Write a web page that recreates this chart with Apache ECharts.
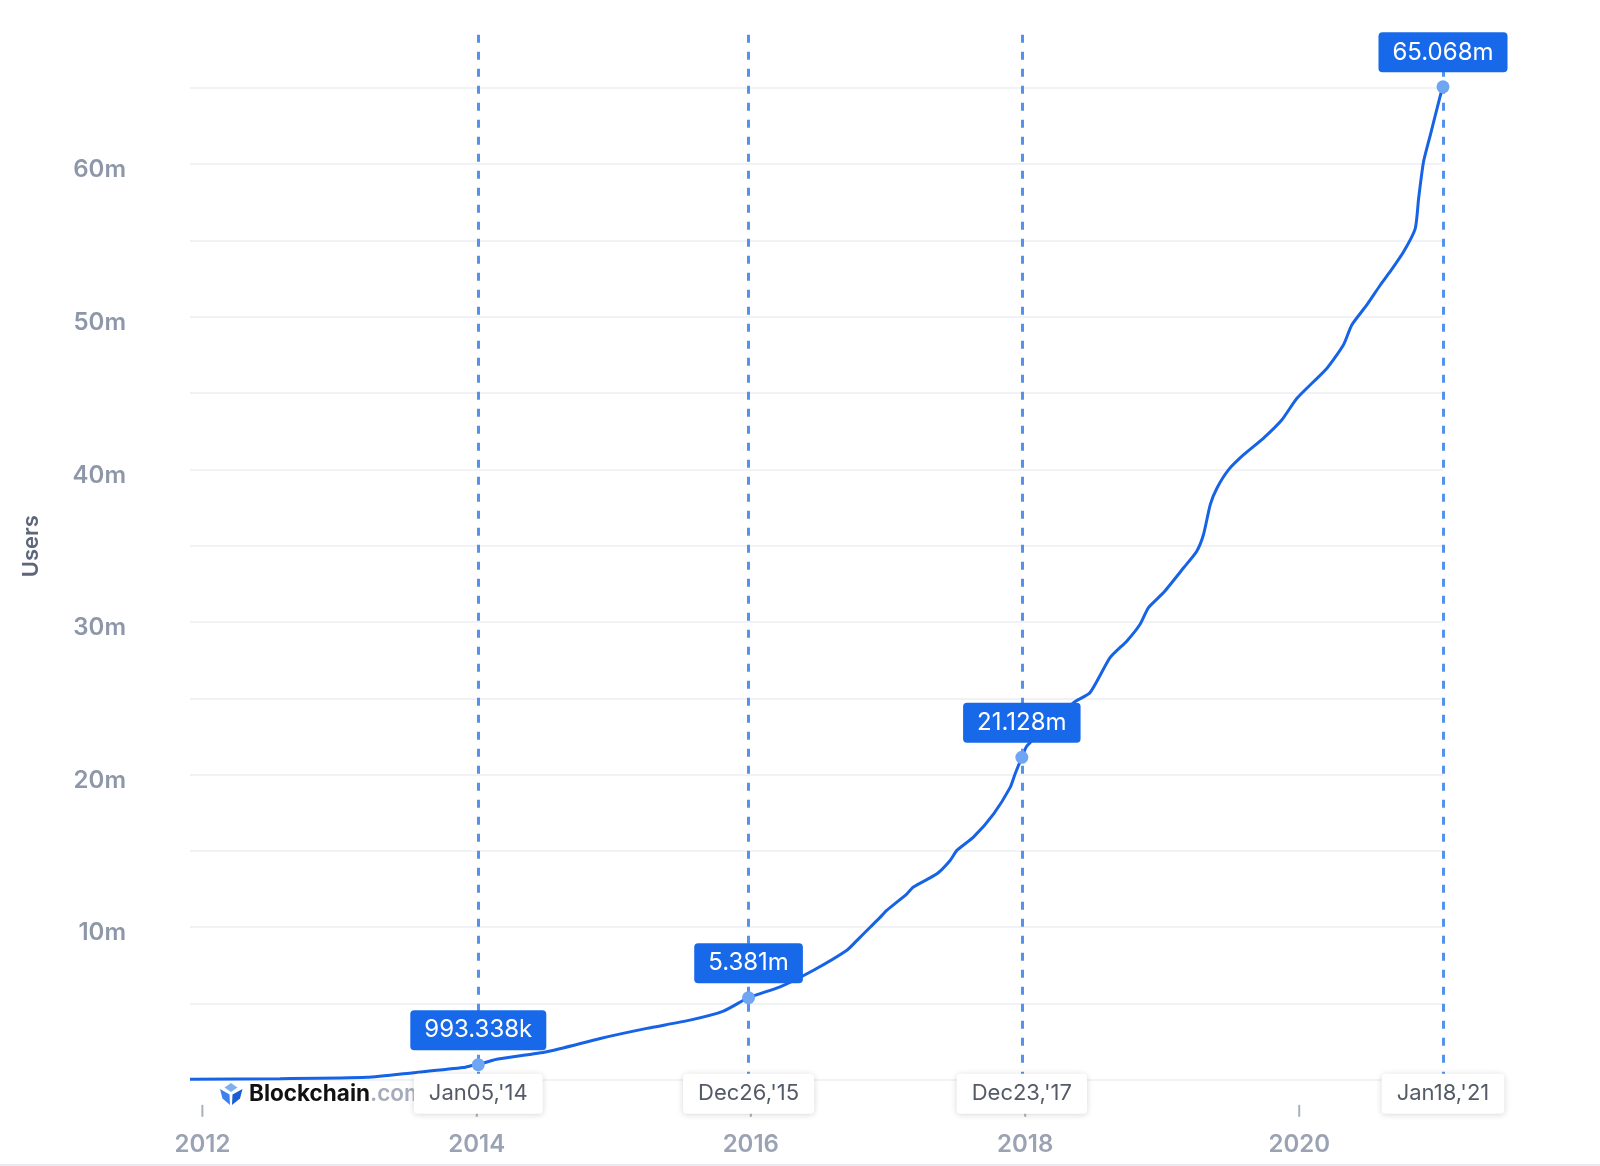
<!DOCTYPE html>
<html>
<head>
<meta charset="utf-8">
<script src="https://cdn.jsdelivr.net/npm/echarts@6/dist/echarts.min.js"></script>
<style>
html,body{margin:0;padding:0;background:#fff;}
#chart{width:1600px;height:1166px;}
</style>
</head>
<body>
<div id="chart"></div>
<script>
// ---- data (users in millions) ----
var dates = ['2011-11-29','2012-07-26','2013-03-14','2013-07-16','2013-11-26','2013-12-22','2014-01-05','2014-02-23','2014-07-07','2014-11-26',
  '2015-03-30','2015-07-23','2015-10-20','2015-12-26','2016-03-19','2016-06-16','2016-09-13','2016-10-10','2016-11-14','2016-12-11','2016-12-28',
  '2017-02-20','2017-03-09','2017-05-11','2017-06-15','2017-07-03','2017-08-16','2017-10-09','2017-11-22','2017-12-05','2017-12-23',
  '2018-01-06','2018-03-15','2018-05-10','2018-06-23','2018-08-15','2018-09-29','2018-11-03','2018-11-25',
  '2019-01-04','2019-02-27','2019-04-03','2019-04-21','2019-05-09','2019-05-27','2019-06-27','2019-08-06','2019-09-28','2019-11-16','2019-12-26',
  '2020-03-15','2020-04-28','2020-05-20','2020-06-29','2020-08-04','2020-08-30','2020-10-05','2020-11-05','2020-11-14','2020-11-27','2020-12-15',
  '2021-01-11','2021-01-18'];
var users = [0.03,0.07,0.16,0.46,0.80,0.95,0.993338,1.35,1.84,2.71,
  3.37,3.91,4.5,5.381,6.09,7.18,8.49,9.14,10.0,10.66,11.1,
  12.19,12.63,13.5,14.37,15.03,15.9,17.43,19.16,20.04,21.128,
  21.89,23.4,24.72,25.38,27.66,28.76,29.85,30.93,
  31.91,33.55,34.64,35.73,37.69,38.78,39.98,40.96,42.05,43.25,44.66,
  46.63,48.16,49.46,50.77,52.08,52.95,54.26,55.78,57.74,60.14,61.89,
  64.5,65.068];
var markDates = ['2014-01-05','2015-12-26','2017-12-23','2021-01-18'];
var markValues = [0.993338, 5.381, 21.128, 65.068];
var markValueLabels = ['993.338k','5.381m','21.128m','65.068m'];
var markDateLabels = ["Jan05,'14","Dec26,'15","Dec23,'17","Jan18,'21"];
var yearTicks = [2012, 2014, 2016, 2018, 2020];
var xMin = '2011-11-29', xMax = '2021-01-18';
var yMax = 68.75, yStep = 5;

// ---- chart ----
function ts(s) { var p = s.split('-'); return new Date(+p[0], +p[1] - 1, +p[2]).getTime(); }
var FONT = 'Inter, "Noto Sans", sans-serif';
var chart = echarts.init(document.getElementById('chart'), null, {renderer: 'canvas'});
var lineData = dates.map(function (d, i) { return [ts(d), users[i]]; });
var pointData = markDates.map(function (d, i) { return [ts(d), markValues[i]]; });
var baseData = markDates.map(function (d) { return [ts(d), 0]; });
var yearStamps = yearTicks.map(function (y) { return new Date(y, 0, 1).getTime(); });
var tickData = yearStamps.map(function (t) { return [t, 0]; });

chart.setOption({
  animation: false,
  backgroundColor: '#ffffff',
  grid: { left: 190, right: 157, top: 30.6, bottom: 86.2, containLabel: false, outerBoundsMode: 'none' },
  xAxis: {
    type: 'value', min: ts(xMin), max: ts(xMax), offset: 25, scale: true,
    axisLine: { show: false },
    splitLine: { show: false },
    axisTick: { show: false },
    axisLabel: {
      customValues: yearStamps, margin: 28,
      formatter: function (v) { return String(new Date(v).getFullYear()); },
      color: '#9aa2b3', fontSize: 24, fontWeight: 600, fontFamily: FONT
    }
  },
  yAxis: {
    type: 'value', min: 0, max: yMax, interval: yStep,
    name: 'Users', nameLocation: 'middle', nameGap: 148,
    nameTextStyle: { color: '#5d6779', fontSize: 22, fontWeight: 600, fontFamily: FONT, padding: [0, 0, 0, 18] },
    axisLine: { show: false }, axisTick: { show: false },
    splitLine: { show: true, showMaxLine: false, lineStyle: { color: '#eceef2', width: 1.5 } },
    axisLabel: {
      margin: 64, verticalAlign: 'top', lineHeight: 12,
      formatter: function (v) { return (v > 0 && v % 10 === 0) ? v + 'm' : ''; },
      color: '#8e97a9', fontSize: 24, fontWeight: 600, fontFamily: FONT
    }
  },
  graphic: [
    { type: 'polygon', z: 1, shape: { points: [[231,1083],[237.5,1087.5],[231,1092],[224.5,1087.5]] }, style: { fill: '#7db0f2' } },
    { type: 'polygon', z: 1, shape: { points: [[220,1089],[229.5,1094.5],[230,1105],[222.5,1098.5]] }, style: { fill: '#3b82ec' } },
    { type: 'polygon', z: 1, shape: { points: [[242.5,1089],[232.5,1094.5],[232,1105],[240,1098.5]] }, style: { fill: '#1b5bd6' } },
    { type: 'text', z: 1, x: 249, y: 1094, style: {
        text: '{b|Blockchain}{c|.com}', verticalAlign: 'middle',
        rich: { b: { fontSize: 22.5, fontWeight: 'bold', fill: '#111111', fontFamily: FONT },
                c: { fontSize: 22.5, fontWeight: 600, fill: '#a4acbb', fontFamily: FONT } } } },
    { type: 'rect', z: 0, shape: { x: 0, y: 1164, width: 1600, height: 2 }, style: { fill: '#e8eaee' } }
  ],
  series: [
    {
      name: 'Users', type: 'line', data: lineData, z: 2,
      showSymbol: false, smooth: 0.2,
      lineStyle: { color: '#1663e6', width: 3 },
      markLine: {
        silent: true, symbol: ['none', 'none'], label: { show: false },
        lineStyle: { color: '#5592ec', width: 3, type: [8, 9] },
        data: markDates.map(function (d) { return { xAxis: ts(d) }; })
      }
    },
    {
      name: 'yearTicks', type: 'scatter', data: tickData, z: 1, silent: true,
      symbol: 'rect', symbolSize: [2, 12], symbolOffset: [0, 31],
      itemStyle: { color: '#a9b0bd', opacity: 1 }
    },
    {
      name: 'marks', type: 'scatter', data: pointData, z: 5,
      symbol: 'circle', symbolSize: 13,
      itemStyle: { color: '#6ea6f3', opacity: 1 },
      label: {
        show: true, position: 'top', distance: 8,
        formatter: function (p) { return markValueLabels[p.dataIndex]; },
        color: '#ffffff', fontSize: 24, fontFamily: FONT, lineHeight: 24,
        backgroundColor: '#1769ea', padding: [8, 14, 8, 14], borderRadius: 4
      }
    },
    {
      name: 'dates', type: 'scatter', data: baseData, z: 6,
      symbolSize: 0, silent: true, itemStyle: { opacity: 1 },
      label: {
        show: true, position: 'inside', offset: [0, 14],
        formatter: function (p) { return markDateLabels[p.dataIndex]; },
        color: '#555b66', fontSize: 22, fontFamily: FONT, lineHeight: 22,
        backgroundColor: '#ffffff', padding: [9, 15], borderRadius: 4,
        shadowColor: 'rgba(0,0,0,0.16)', shadowBlur: 6, shadowOffsetY: 1
      }
    }
  ]
});
</script>
</body>
</html>
